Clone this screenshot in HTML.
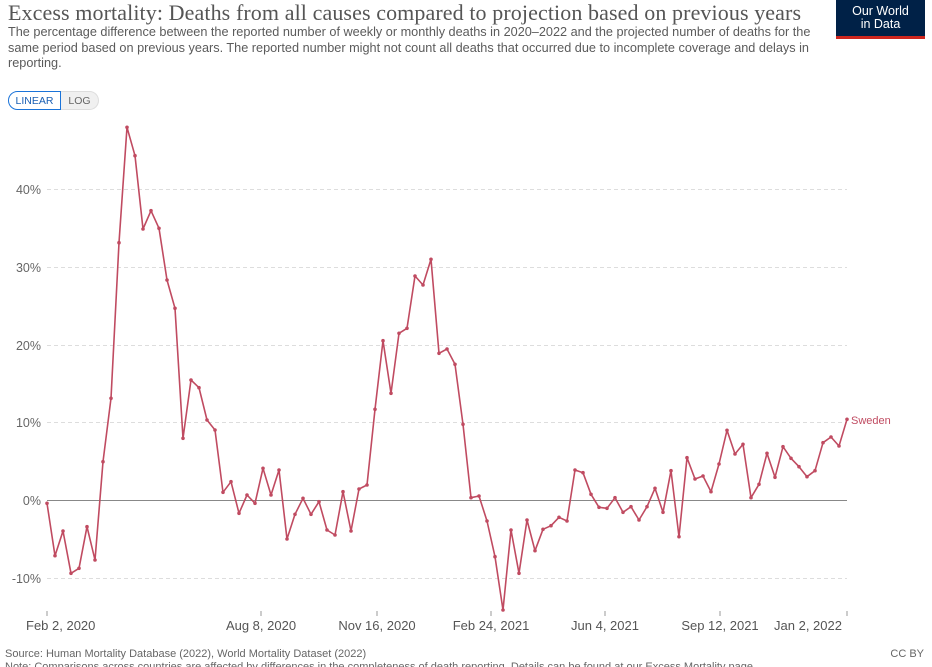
<!DOCTYPE html>
<html><head><meta charset="utf-8"><style>
body{margin:0;background:#fff;width:932px;height:667px;overflow:hidden;position:relative;font-family:"Liberation Sans",sans-serif}
.t{position:absolute;left:8px;top:0px;font-family:"Liberation Serif",serif;font-size:22px;color:#555;letter-spacing:0.1px;white-space:nowrap}
.s{position:absolute;left:8px;top:25px;width:820px;font-size:12.7px;line-height:15.5px;color:#5b5b5b}
.logo{position:absolute;left:836px;top:0;width:89px;height:39px;background:#002147;color:#fff;font-size:12.5px;line-height:13px;text-align:center;box-sizing:border-box;padding-top:5px;border-bottom:3px solid #ce261e}
.btn{position:absolute;top:91px;height:19px;font-size:10.5px;line-height:19px;box-sizing:border-box}
</style></head><body>
<div class="t">Excess mortality: Deaths from all causes compared to projection based on previous years</div>
<div class="s">The percentage difference between the reported number of weekly or monthly deaths in 2020–2022 and the projected number of deaths for the same period based on previous years. The reported number might not count all deaths that occurred due to incomplete coverage and delays in reporting.</div>
<div class="logo">Our World<br>in Data</div>
<div class="btn" style="left:8px;width:53px;border:1px solid #1a73d9;border-radius:10px 0 0 10px;color:#1a5fb4;text-align:center">LINEAR</div>
<div class="btn" style="left:61px;width:38px;background:#f0f0f0;border:1px solid #ddd;border-left:none;border-radius:0 10px 10px 0;color:#666;text-align:center">LOG</div>
<svg width="932" height="667" style="position:absolute;left:0;top:0" font-family="Liberation Sans, sans-serif">
<defs><marker id="d" markerWidth="4" markerHeight="4" refX="2" refY="2" markerUnits="userSpaceOnUse"><circle cx="2" cy="2" r="1.8" fill="#c04b61"/></marker></defs>
<g stroke="#ddd" stroke-dasharray="4,3" stroke-width="1">
<line x1="47" x2="847" y1="189.5" y2="189.5"/><line x1="47" x2="847" y1="267.5" y2="267.5"/><line x1="47" x2="847" y1="345.5" y2="345.5"/><line x1="47" x2="847" y1="422.5" y2="422.5"/><line x1="47" x2="847" y1="578.5" y2="578.5"/>
</g>
<line x1="47" x2="847" y1="500.5" y2="500.5" stroke="#888" stroke-width="1"/>
<g fill="#666" font-size="12.5" text-anchor="end">
<text x="41" y="194">40%</text><text x="41" y="272">30%</text><text x="41" y="350">20%</text><text x="41" y="427">10%</text><text x="41" y="505">0%</text><text x="41" y="583">-10%</text>
</g>
<g stroke="#999"><line x1="47" x2="47" y1="611" y2="616"/><line x1="261" x2="261" y1="611" y2="616"/><line x1="377" x2="377" y1="611" y2="616"/><line x1="491" x2="491" y1="611" y2="616"/><line x1="605" x2="605" y1="611" y2="616"/><line x1="720" x2="720" y1="611" y2="616"/><line x1="847" x2="847" y1="611" y2="616"/></g>
<g fill="#555" font-size="13" text-anchor="middle">
<text x="26" y="630" text-anchor="start">Feb 2, 2020</text><text x="261" y="630">Aug 8, 2020</text><text x="377" y="630">Nov 16, 2020</text><text x="491" y="630">Feb 24, 2021</text><text x="605" y="630">Jun 4, 2021</text><text x="720" y="630">Sep 12, 2021</text><text x="808" y="630">Jan 2, 2022</text>
</g>
<polyline fill="none" stroke="#c04b61" stroke-width="1.6" stroke-linejoin="round" marker-start="url(#d)" marker-mid="url(#d)" marker-end="url(#d)" points="47,503.3 55,555.7 63,531 71,573.3 79,568.3 87,526.7 95,560 103,461.7 111,398.3 119,242.7 127,127.3 135,155.7 143,229 151,210.7 159,228.3 167,280 175,308.3 183,438.3 191,380 199,387.7 207,420 215,430 223,492.3 231,481.7 239,513.3 247,495 255,503.3 263,468.3 271,495 279,470 287,539 295,514.3 303,498.3 311,514.3 319,501.7 327,530 335,535 343,491.7 351,531 359,489 367,485 375,409.3 383,340.7 391,393.3 399,333.3 407,328.3 415,276 423,285 431,259.3 439,353.3 447,349 455,364.3 463,424.3 471,497.7 479,496 487,521 495,556.7 503,610 511,530 519,573.3 527,520 535,550.7 543,529.3 551,525.7 559,517.3 567,521 575,470 583,472.7 591,494.3 599,507.3 607,508.3 615,497.7 623,512.3 631,506.7 639,520 647,506.7 655,488.3 663,512.3 671,470.7 679,536.7 687,457.7 695,479 703,476 711,491.7 719,464 727,430.3 735,454 743,444.3 751,497.7 759,484.3 767,453.3 775,477.3 783,446.7 791,458.3 799,466.7 807,476.7 815,470.7 823,442.7 831,437 839,446 847,419.3"/>
<text x="851" y="424" font-size="11" fill="#c04b61">Sweden</text>
<text x="5" y="657" font-size="11" fill="#666">Source: Human Mortality Database (2022), World Mortality Dataset (2022)</text>
<text x="924" y="657" font-size="11" fill="#666" text-anchor="end">CC BY</text>
<text x="5" y="670" font-size="11" fill="#666">Note: Comparisons across countries are affected by differences in the completeness of death reporting. Details can be found at our Excess Mortality page.</text>
</svg>
</body></html>
